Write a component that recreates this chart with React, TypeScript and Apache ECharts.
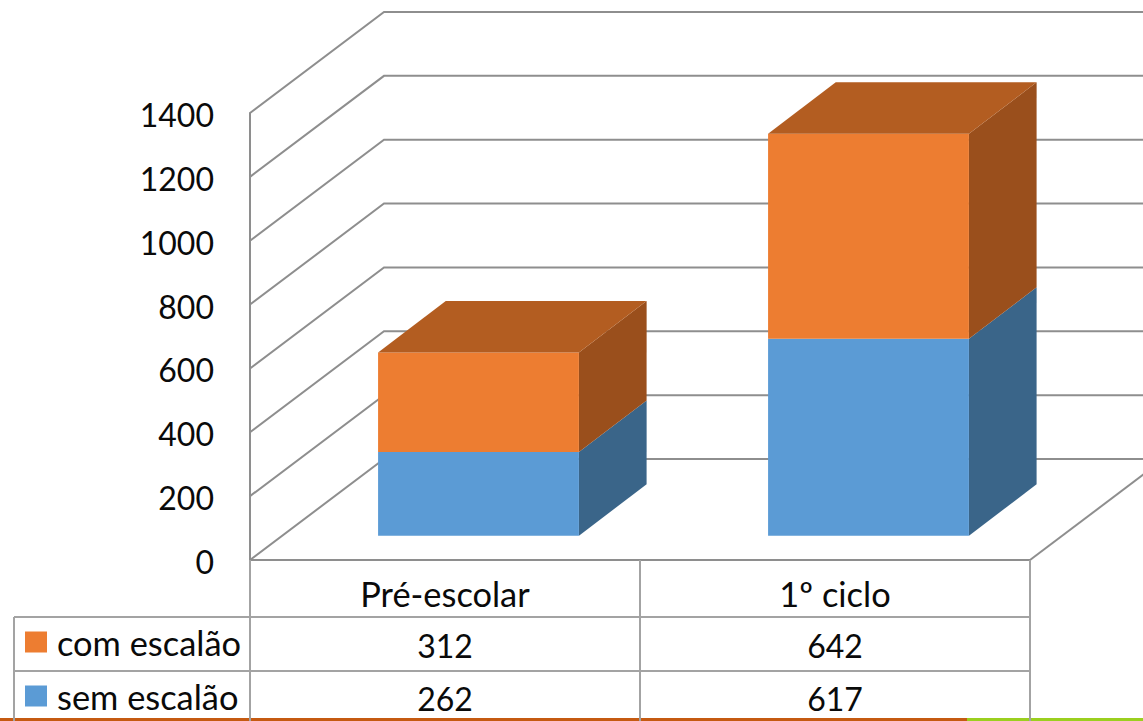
import React, { useEffect, useRef } from "react";
import * as echarts from "echarts";

const categories = ["Pré-escolar", "1º ciclo"];
const semEscalao = [262, 617];
const comEscalao = [312, 642];
const yTicks = [0, 200, 400, 600, 800, 1000, 1200, 1400];

const FONT = "Lato";
const FS = 32;
const WORD_FS = 34.4;
const TEXT = "#0a0a0a";
const RULE = "#8e8e8e";
const TABLE_RULE = "#a3a3a3";
const DX = 134;
const DY = 101;
const BAR_RATIO = 0.515;

function cube(colors: any, withTop: boolean) {
  return (params: any, api: any) => {
    const i = api.value(0);
    const cx = api.coord([i, 0])[0] + DX / 4;
    const w = api.size([1, 0])[0] * BAR_RATIO;
    const lift = DY * 0.24;
    const dx = DX * 0.505;
    const dy = DY * 0.51;
    const y0 = api.coord([i, api.value(1)])[1] - lift;
    const y1 = api.coord([i, api.value(2)])[1] - lift;
    const l = cx - w / 2;
    const r = cx + w / 2;
    const children: any[] = [
      { type: "polygon", shape: { points: [[r, y0], [r + dx, y0 - dy], [r + dx, y1 - dy], [r, y1]] }, style: { fill: colors.side } },
      { type: "polygon", shape: { points: [[l, y0], [r, y0], [r, y1], [l, y1]] }, style: { fill: colors.front } },
    ];
    if (withTop) {
      children.push({ type: "polygon", shape: { points: [[l, y1], [r, y1], [r + dx, y1 - dy], [l + dx, y1 - dy]] }, style: { fill: colors.top } });
    }
    return { type: "group", children };
  };
}

const legendBase = {
  left: 25,
  padding: 0,
  orient: "vertical",
  itemWidth: 22,
  itemHeight: 21,
  icon: "rect",
  selectedMode: false,
  textStyle: { color: TEXT, fontFamily: FONT, fontSize: WORD_FS, lineHeight: 21, padding: [0, 0, 8, 5] },
};

export default function App() {
  const ref = useRef<HTMLDivElement>(null);
  useEffect(() => {
    document.body.style.margin = "0";
    document.body.style.overflow = "hidden";
    const chart = echarts.init(ref.current!, null, { renderer: "svg" });
    const hLine = (x1: number, x2: number, y: number) => ({
      type: "line", z: 20, shape: { x1, y1: y, x2, y2: y }, style: { stroke: TABLE_RULE, lineWidth: 2 },
    });
    const vLine = (x: number, y1: number, y2: number, stroke = TABLE_RULE) => ({
      type: "line", z: 20, shape: { x1: x, y1, x2: x, y2 }, style: { stroke, lineWidth: 2 },
    });
    chart.setOption({
      animation: false,
      backgroundColor: "#ffffff",
      grid: { left: 250, top: 113, width: 780, height: 447, containLabel: false },
      xAxis: {
        type: "category",
        data: categories,
        axisTick: { show: false },
        axisLine: { show: true, lineStyle: { color: RULE, width: 2 } },
        axisLabel: { color: TEXT, fontFamily: FONT, fontSize: WORD_FS, margin: 16 },
      },
      yAxis: {
        type: "value",
        min: 0,
        max: 1400,
        interval: 200,
        splitLine: { show: false },
        axisTick: { show: false },
        axisLine: { show: true, lineStyle: { color: RULE, width: 2 } },
        axisLabel: {
          color: TEXT,
          fontFamily: FONT,
          fontSize: FS,
          margin: 36,
          verticalAlign: "top",
          lineHeight: 3,
          formatter: (v: number) => String(v),
        },
      },
      legend: [
        { ...legendBase, top: 625, data: ["com escalão"] },
        { ...legendBase, top: 679, data: ["sem escalão"] },
      ],
      series: [
        {
          type: "custom",
          name: "walls",
          z: 1,
          silent: true,
          data: yTicks.map((v) => [0, v]),
          renderItem: (params: any, api: any) => {
            const left = params.coordSys.x;
            const width = params.coordSys.width;
            const v = api.value(1);
            const y = api.coord([0, v])[1];
            const children: any[] = [
              {
                type: "polyline",
                shape: { points: [[left, y], [left + DX, y - DY], [left + DX + width, y - DY]] },
                style: { stroke: RULE, lineWidth: 2, fill: "none" },
              },
            ];
            if (v === 0) {
              children.push({
                type: "line",
                shape: { x1: left + width, y1: y, x2: left + width + DX, y2: y - DY },
                style: { stroke: RULE, lineWidth: 2 },
              });
            }
            return { type: "group", children };
          },
        },
        {
          type: "custom",
          name: "sem escalão",
          z: 2,
          itemStyle: { color: "#5b9bd5" },
          data: semEscalao.map((v, i) => [i, 0, v]),
          encode: { x: 0, y: [1, 2] },
          renderItem: cube({ front: "#5b9bd5", side: "#3a6589" }, false),
        },
        {
          type: "custom",
          name: "com escalão",
          z: 3,
          itemStyle: { color: "#ed7d31" },
          data: comEscalao.map((v, i) => [i, semEscalao[i], semEscalao[i] + v]),
          encode: { x: 0, y: [1, 2] },
          renderItem: cube({ front: "#ed7d31", side: "#9a4f1c", top: "#b35d21" }, true),
        },
        {
          type: "custom",
          name: "table",
          z: 4,
          silent: true,
          data: categories.map((_, i) => [i, comEscalao[i], semEscalao[i]]),
          renderItem: (params: any, api: any) => {
            const i = api.value(0);
            const x = api.coord([i, 0])[0];
            const cell = (value: number, y: number) => ({
              type: "text",
              style: { x, y, text: String(value), fill: TEXT, font: `${FS}px ${FONT}`, align: "center", verticalAlign: "middle" },
            });
            return { type: "group", children: [cell(api.value(1), 645), cell(api.value(2), 698)] };
          },
        },
      ],
      graphic: [
        hLine(14, 1030, 617),
        hLine(14, 1030, 671),
        vLine(14, 617, 721),
        vLine(250, 560, 721),
        vLine(640, 560, 721),
        vLine(1030, 560, 721),
        { type: "rect", z: 19, shape: { x: 0, y: 718, width: 967, height: 3 }, style: { fill: "#c55a11" } },
        { type: "rect", z: 19, shape: { x: 967, y: 718, width: 176, height: 3 }, style: { fill: "#9bcf1f" } },
      ],
    });
    return () => chart.dispose();
  }, []);
  return <div ref={ref} style={{ position: "fixed", left: 0, top: 0, width: 1143, height: 721 }} />;
}
